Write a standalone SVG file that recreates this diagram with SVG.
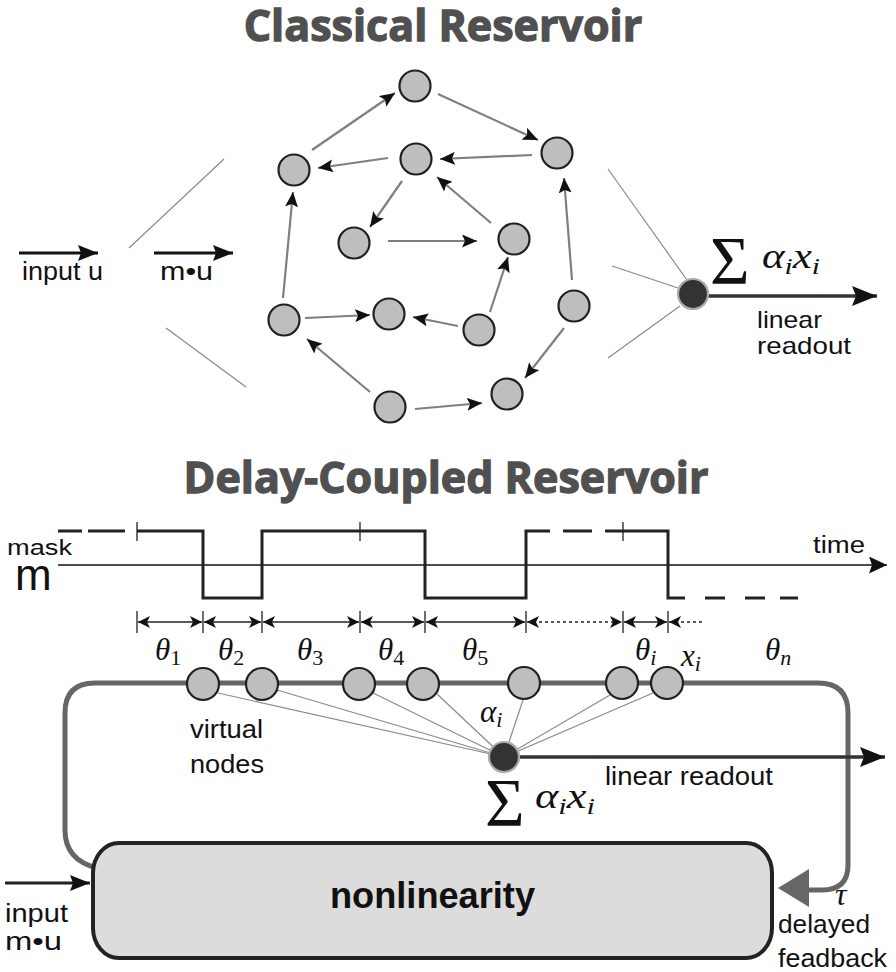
<svg xmlns="http://www.w3.org/2000/svg" width="896" height="972" viewBox="0 0 896 972">
  <style>
    .title { font-family: "Open Sans", "DejaVu Sans", sans-serif; font-weight: bold; font-size: 43px; fill: #505050; stroke: #505050; stroke-width: 1.3; text-anchor: middle; }
    .lbl { font-family: "Liberation Sans", Arial, sans-serif; fill: #111; }
    .math { font-family: "Liberation Serif", "DejaVu Serif", serif; font-style: italic; fill: #111; }
    .up { font-style: normal; }
    .node { fill: #bcbec0; stroke: #231f20; stroke-width: 2.2; }
    .rnode { fill: #333; stroke: #aaa; stroke-width: 2.2; }
    .edge { stroke: #7f7f7f; stroke-width: 2.2; fill: none; marker-end: url(#ah); }
    .thin { stroke: #8a8a8a; stroke-width: 1.2; fill: none; }
    .wave { stroke: #222; stroke-width: 3; fill: none; }
    .tick { stroke: #222; stroke-width: 1.3; fill: none; }
    .dim { stroke: #222; stroke-width: 1.3; fill: none; marker-start: url(#dh); marker-end: url(#dh); }
  </style>
  <defs>
    <marker id="ah" markerUnits="userSpaceOnUse" markerWidth="16" markerHeight="13" refX="15" refY="6.5" orient="auto">
      <path d="M0,0 L15,6.5 L0,13 L3,6.5 Z" fill="#111"/>
    </marker>
    <marker id="big" markerUnits="userSpaceOnUse" markerWidth="21" markerHeight="16" refX="20" refY="8" orient="auto">
      <path d="M0,0 L20,8 L0,16 L3,8 Z" fill="#111"/>
    </marker>
    <marker id="out" markerUnits="userSpaceOnUse" markerWidth="26" markerHeight="20" refX="25" refY="10" orient="auto">
      <path d="M0,0 L25,10 L0,20 L4,10 Z" fill="#111"/>
    </marker>
    <marker id="axis" markerUnits="userSpaceOnUse" markerWidth="19" markerHeight="17" refX="18" refY="8.5" orient="auto">
      <path d="M0,0 L18,8.5 L0,17 L3,8.5 Z" fill="#111"/>
    </marker>
    <marker id="dh" markerUnits="userSpaceOnUse" markerWidth="13" markerHeight="12" refX="12" refY="6" orient="auto-start-reverse">
      <path d="M0,0 L12,6 L0,12 L3,6 Z" fill="#111"/>
    </marker>
  </defs>

  <!-- headings -->
  <text class="title" x="443" y="41">Classical Reservoir</text>
  <text class="title" x="446" y="493" font-size="44">Delay-Coupled Reservoir</text>

  <!-- classical reservoir: input side -->
  <g id="input-top">
    <line x1="19" y1="253" x2="98" y2="253" stroke="#111" stroke-width="3" marker-end="url(#big)"/>
    <text class="lbl" x="22" y="280" font-size="25" textLength="81" lengthAdjust="spacingAndGlyphs">input u</text>
    <line x1="154" y1="253" x2="233" y2="253" stroke="#111" stroke-width="3" marker-end="url(#big)"/>
    <text class="lbl" x="160" y="280" font-size="25" textLength="53" lengthAdjust="spacingAndGlyphs">m•u</text>
    <line class="thin" x1="129" y1="248" x2="224" y2="159"/>
    <line class="thin" x1="166" y1="328" x2="246" y2="387"/>
  </g>

  <!-- classical reservoir: recurrent connections -->
  <g id="reservoir-edges">
    <line class="edge" x1="312" y1="150" x2="395" y2="93"/>
    <line class="edge" x1="438" y1="94" x2="538" y2="140"/>
    <line class="edge" x1="532" y1="155" x2="440" y2="159"/>
    <line class="edge" x1="388" y1="158" x2="318" y2="168"/>
    <line class="edge" x1="402" y1="181" x2="370" y2="227"/>
    <line class="edge" x1="388" y1="241" x2="477" y2="241"/>
    <line class="edge" x1="491" y1="223" x2="437" y2="177"/>
    <line class="edge" x1="283" y1="298" x2="293" y2="192"/>
    <line class="edge" x1="305" y1="318" x2="370" y2="315"/>
    <line class="edge" x1="458" y1="326" x2="413" y2="317"/>
    <line class="edge" x1="490" y1="312" x2="508" y2="257"/>
    <line class="edge" x1="572" y1="280" x2="564" y2="178"/>
    <line class="edge" x1="564" y1="328" x2="525" y2="378"/>
    <line class="edge" x1="370" y1="392" x2="307" y2="339"/>
    <line class="edge" x1="415" y1="409" x2="482" y2="403"/>
  </g>

  <!-- classical reservoir: nodes -->
  <g id="n1"><circle class="node" cx="415" cy="86" r="15.5"/></g>
  <g id="n2"><circle class="node" cx="557" cy="153" r="15.5"/></g>
  <g id="n3"><circle class="node" cx="416" cy="159" r="15.5"/></g>
  <g id="n4"><circle class="node" cx="294" cy="170" r="15.5"/></g>
  <g id="n5"><circle class="node" cx="354" cy="243" r="15.5"/></g>
  <g id="n6"><circle class="node" cx="514" cy="239" r="15.5"/></g>
  <g id="n7"><circle class="node" cx="574" cy="306" r="15.5"/></g>
  <g id="n8"><circle class="node" cx="284" cy="320" r="15.5"/></g>
  <g id="n9"><circle class="node" cx="389" cy="314" r="15.5"/></g>
  <g id="n10"><circle class="node" cx="479" cy="330" r="15.5"/></g>
  <g id="n11"><circle class="node" cx="390" cy="407" r="15.5"/></g>
  <g id="n12"><circle class="node" cx="507" cy="394" r="15.5"/></g>

  <!-- classical reservoir: readout -->
  <g id="readout-top">
    <line class="thin" x1="608" y1="169" x2="687" y2="280"/>
    <line class="thin" x1="612" y1="266" x2="678" y2="288"/>
    <line class="thin" x1="608" y1="358" x2="680" y2="306"/>
    <line x1="708" y1="296" x2="877" y2="296" stroke="#333" stroke-width="3.5" marker-end="url(#out)"/>
    <circle class="rnode" cx="693" cy="294" r="15"/>
    <text class="math up" x="710" y="283" font-size="68">Σ</text>
    <text class="math" x="762" y="268" font-size="35" textLength="58" lengthAdjust="spacingAndGlyphs">α<tspan font-size="24" dy="6">i</tspan><tspan dy="-6">x</tspan><tspan font-size="24" dy="6">i</tspan></text>
    <text class="lbl" x="757" y="328" font-size="24" textLength="65" lengthAdjust="spacingAndGlyphs">linear</text>
    <text class="lbl" x="757" y="354" font-size="24" textLength="94" lengthAdjust="spacingAndGlyphs">readout</text>
  </g>

  <!-- delay-coupled reservoir: input mask over time -->
  <g id="mask">
    <text class="lbl" x="7" y="555" font-size="22" textLength="65" lengthAdjust="spacingAndGlyphs">mask</text>
    <text class="lbl" x="15" y="590" font-size="44">m</text>
    <line x1="58" y1="565" x2="887" y2="565" stroke="#111" stroke-width="1.3" marker-end="url(#axis)"/>
    <text class="lbl" x="813" y="553" font-size="23" textLength="52" lengthAdjust="spacingAndGlyphs">time</text>
    <path class="wave" d="M137,531 H203 V598 H262 V531 H425 V598 H526 V531 H550 M605,531 H668 V598 H685"/>
    <path class="wave" d="M58,531 H82 M88,531 H125 M563,531 H592 M705,598 H725 M745,598 H765 M780,598 H798"/>
    <path class="tick" d="M137,522 V541 M360,522 V541 M623,522 V541"/>
    <path class="tick" d="M137,611 V633 M203,611 V633 M262,611 V633 M360,611 V633 M425,611 V633 M526,611 V633 M623,611 V633 M668,611 V633"/>
    <line class="dim" x1="138" y1="622" x2="202" y2="622"/>
    <line class="dim" x1="204" y1="622" x2="261" y2="622"/>
    <line class="dim" x1="263" y1="622" x2="359" y2="622"/>
    <line class="dim" x1="361" y1="622" x2="424" y2="622"/>
    <line class="dim" x1="426" y1="622" x2="525" y2="622"/>
    <line class="dim" x1="527" y1="622" x2="622" y2="622" stroke-dasharray="3,3"/>
    <line class="dim" x1="624" y1="622" x2="667" y2="622"/>
    <line x1="669" y1="622" x2="703" y2="622" stroke="#222" stroke-width="1.3" stroke-dasharray="3,3" marker-start="url(#dh)"/>
    <text class="math" x="155" y="660" font-size="31">θ<tspan class="up" font-size="22" dy="5">1</tspan></text>
    <text class="math" x="218" y="660" font-size="31">θ<tspan class="up" font-size="22" dy="5">2</tspan></text>
    <text class="math" x="297" y="660" font-size="31">θ<tspan class="up" font-size="22" dy="5">3</tspan></text>
    <text class="math" x="378" y="660" font-size="31">θ<tspan class="up" font-size="22" dy="5">4</tspan></text>
    <text class="math" x="462" y="660" font-size="31">θ<tspan class="up" font-size="22" dy="5">5</tspan></text>
    <text class="math" x="635" y="660" font-size="31">θ<tspan font-size="22" dy="5">i</tspan></text>
    <text class="math" x="681" y="666" font-size="31">x<tspan font-size="22" dy="5">i</tspan></text>
    <text class="math" x="765" y="660" font-size="31">θ<tspan font-size="22" dy="5">n</tspan></text>
  </g>

  <!-- delay loop -->
  <g id="connectors">
    <path d="M97,868 Q65,860 65,830 V713 Q65,683 95,683 H818 Q848,683 848,713 V865 Q848,890 822,890 H805" stroke="#666" stroke-width="5" fill="none"/>
    <path d="M778,888 L809,869 L809,907 Z" fill="#666"/>
    <line x1="5" y1="883" x2="90" y2="883" stroke="#222" stroke-width="3" marker-end="url(#big)"/>
  </g>

  <!-- virtual nodes feeding the readout -->
  <g id="readout-lines">
    <line class="thin" x1="218" y1="693" x2="504" y2="757"/>
    <line class="thin" x1="277" y1="690" x2="504" y2="757"/>
    <line class="thin" x1="373" y1="693" x2="504" y2="757"/>
    <line class="thin" x1="437" y1="694" x2="504" y2="757"/>
    <line class="thin" x1="523" y1="700" x2="504" y2="757"/>
    <line class="thin" x1="610" y1="695" x2="504" y2="757"/>
    <line class="thin" x1="653" y1="693" x2="504" y2="757"/>
  </g>
  <g id="v1"><circle class="node" cx="203" cy="684" r="16"/></g>
  <g id="v2"><circle class="node" cx="262" cy="684" r="16"/></g>
  <g id="v3"><circle class="node" cx="359" cy="684" r="16"/></g>
  <g id="v4"><circle class="node" cx="423" cy="684" r="16"/></g>
  <g id="v5"><circle class="node" cx="524" cy="683" r="16"/></g>
  <g id="vi"><circle class="node" cx="622" cy="683" r="16"/></g>
  <g id="vi1"><circle class="node" cx="667" cy="683" r="16"/></g>

  <g id="readout-bottom">
    <line x1="518" y1="757" x2="885" y2="757" stroke="#333" stroke-width="3.5" marker-end="url(#out)"/>
    <circle class="rnode" cx="504" cy="757" r="15"/>
    <text class="math" x="480" y="722" font-size="31">α<tspan font-size="22" dy="5">i</tspan></text>
    <text class="math up" x="485" y="825" font-size="68">Σ</text>
    <text class="math" x="535" y="808" font-size="35" textLength="60" lengthAdjust="spacingAndGlyphs">α<tspan font-size="24" dy="6">i</tspan><tspan dy="-6">x</tspan><tspan font-size="24" dy="6">i</tspan></text>
    <text class="lbl" x="605" y="785" font-size="25" textLength="168" lengthAdjust="spacingAndGlyphs">linear readout</text>
    <text class="lbl" x="190" y="738" font-size="25" textLength="73" lengthAdjust="spacingAndGlyphs">virtual</text>
    <text class="lbl" x="190" y="773" font-size="25" textLength="74" lengthAdjust="spacingAndGlyphs">nodes</text>
  </g>

  <!-- nonlinear element -->
  <g id="nonlinearity">
    <rect x="93" y="843" width="679" height="115" rx="26" ry="30" fill="#dcdcdc" stroke="#222" stroke-width="4"/>
    <text class="lbl" x="330" y="908" font-size="36" font-weight="bold" textLength="205" lengthAdjust="spacingAndGlyphs">nonlinearity</text>
  </g>

  <g id="labels-bottom">
    <text class="lbl" x="5" y="922" font-size="26" textLength="63" lengthAdjust="spacingAndGlyphs">input</text>
    <text class="lbl" x="5" y="950" font-size="26" textLength="57" lengthAdjust="spacingAndGlyphs">m•u</text>
    <text class="math" x="835" y="905" font-size="32">τ</text>
    <text class="lbl" x="778" y="933" font-size="26" textLength="92" lengthAdjust="spacingAndGlyphs">delayed</text>
    <text class="lbl" x="778" y="967" font-size="26" textLength="109" lengthAdjust="spacingAndGlyphs">feadback</text>
  </g>
</svg>
